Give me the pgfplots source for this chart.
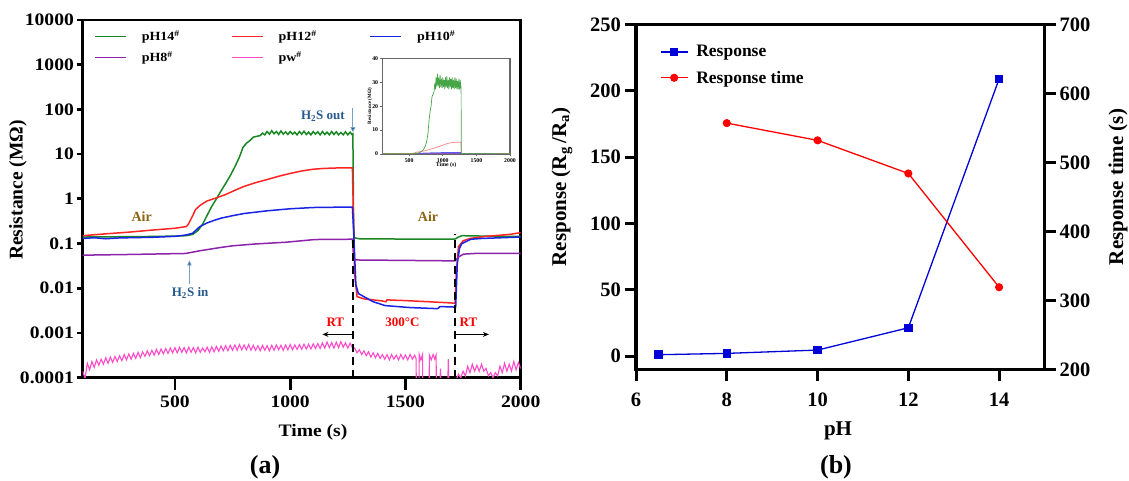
\documentclass[border=0pt]{standalone}
\usepackage{pgfplots}
\pgfplotsset{compat=1.18}
\usepackage{pgfplotstable}
\usepackage{fontspec}
\setmainfont{Liberation Serif}
\newfontfamily\fa{Liberation Serif}[FakeStretch=1.12]
\usetikzlibrary{arrows.meta}

\definecolor{cgreen}{RGB}{25,135,35}
\definecolor{cred}{RGB}{255,35,35}
\definecolor{cblue}{RGB}{25,35,230}
\definecolor{cpurple}{RGB}{140,35,170}
\definecolor{cpink}{RGB}{255,75,200}
\definecolor{cair}{RGB}{140,100,20}
\definecolor{ch2s}{RGB}{40,90,140}
\definecolor{ch2sl}{RGB}{120,160,200}
\definecolor{rblue}{RGB}{0,0,215}
\definecolor{rred}{RGB}{255,0,0}
\definecolor{igreen}{RGB}{70,165,70}
\definecolor{ired}{RGB}{255,130,130}
\definecolor{iblue}{RGB}{90,90,255}
\definecolor{ipurple}{RGB}{160,80,210}

\pgfplotstableread{
t v
100 0.140
200 0.141
300 0.143
400 0.144
500 0.147
550 0.150
577 0.160
600 0.195
620 0.270
640 0.430
660 0.680
680 1.00
700 1.50
720 2.20
740 3.30
760 5.20
780 8.60
795 14.0
810 17.5
825 20.0
840 24.0
855 25.0
870 26.0
880 29.5
890 27.0
900 32.0
910 28.0
920 33.5
930 28.5
940 32.0
950 27.5
960 33.0
970 28.0
980 31.5
990 27.5
1000 32.0
1010 28.0
1020 31.0
1030 27.0
1040 32.0
1050 28.0
1060 32.5
1070 27.5
1080 31.0
1090 27.0
1100 32.0
1110 28.0
1120 31.5
1130 27.0
1140 32.0
1150 27.5
1160 31.0
1170 27.0
1180 32.0
1190 27.5
1200 31.5
1210 27.0
1220 30.5
1230 27.0
1240 31.5
1250 27.0
1260 31.0
1268 27.5
1272 28.5
1275 0.300
1278 0.135
1300 0.128
1400 0.127
1500 0.126
1600 0.126
1712 0.126
1718 0.128
1730 0.140
1745 0.150
1800 0.148
1900 0.146
2000 0.145
}\tgreen

\pgfplotstableread{
t v
100 0.150
200 0.165
300 0.180
400 0.200
500 0.220
550 0.240
560 0.280
575 0.400
590 0.580
610 0.720
640 0.900
680 1.050
720 1.25
760 1.55
800 1.90
850 2.30
900 2.70
950 3.20
1000 3.70
1050 4.20
1100 4.60
1150 4.80
1200 4.90
1270 4.90
1275 0.300
1280 0.020
1290 0.0065
1320 0.0058
1400 0.0052
1415 0.0050
1420 0.0055
1500 0.0053
1600 0.0050
1700 0.0047
1715 0.0046
1720 0.020
1730 0.085
1750 0.115
1780 0.130
1850 0.145
1950 0.160
2000 0.175
}\tred

\pgfplotstableread{
t v
100 0.130
150 0.135
200 0.128
250 0.133
300 0.135
400 0.138
500 0.145
546 0.155
577 0.170
608 0.240
640 0.290
670 0.330
700 0.370
750 0.420
800 0.470
900 0.540
1000 0.600
1100 0.640
1200 0.650
1270 0.650
1275 0.200
1285 0.012
1296 0.0076
1320 0.0065
1360 0.0050
1412 0.0041
1520 0.0037
1640 0.0035
1650 0.0039
1714 0.0038
1718 0.0038
1725 0.036
1735 0.080
1745 0.100
1784 0.125
1830 0.130
2000 0.140
}\tblue

\pgfplotstableread{
t v
100 0.055
300 0.057
546 0.060
608 0.069
700 0.082
750 0.089
850 0.098
980 0.107
1100 0.122
1134 0.124
1270 0.125
1276 0.043
1500 0.042
1715 0.041
1730 0.050
1752 0.058
1800 0.060
2000 0.060
}\tpurple

\pgfplotstableread{
t v
100 1.4e-4
110 0.95e-4
120 2.1e-4
130 1.5e-4
140 2.3e-4
150 1.7e-4
160 2.5e-4
170 1.9e-4
180 2.6e-4
190 2.0e-4
200 2.8e-4
210 2.1e-4
220 2.9e-4
230 2.2e-4
240 3.0e-4
250 2.3e-4
260 3.1e-4
270 2.4e-4
280 3.3e-4
290 2.5e-4
300 3.4e-4
310 2.6e-4
320 3.5e-4
330 2.7e-4
340 3.7e-4
350 2.8e-4
360 3.8e-4
370 3.0e-4
380 4.0e-4
390 3.1e-4
400 4.1e-4
410 3.2e-4
420 4.3e-4
430 3.3e-4
440 4.4e-4
450 3.4e-4
460 4.5e-4
470 3.5e-4
480 4.6e-4
490 3.6e-4
500 4.7e-4
510 3.6e-4
520 4.8e-4
530 3.7e-4
540 4.7e-4
550 3.6e-4
560 4.8e-4
570 3.7e-4
580 4.7e-4
590 3.6e-4
600 4.8e-4
610 3.7e-4
620 4.6e-4
630 3.8e-4
640 4.8e-4
650 3.7e-4
660 4.9e-4
670 3.8e-4
680 5.0e-4
690 3.9e-4
700 5.1e-4
710 4.0e-4
720 5.2e-4
730 4.0e-4
740 5.3e-4
750 4.1e-4
760 5.4e-4
770 4.1e-4
780 5.5e-4
790 4.2e-4
800 5.4e-4
810 4.2e-4
820 5.5e-4
830 4.1e-4
840 5.3e-4
850 4.1e-4
860 5.2e-4
870 4.0e-4
880 5.3e-4
890 4.1e-4
900 5.2e-4
910 4.0e-4
920 5.3e-4
930 4.1e-4
940 5.4e-4
950 4.2e-4
960 5.3e-4
970 4.1e-4
980 5.4e-4
990 4.2e-4
1000 5.5e-4
1010 4.2e-4
1020 5.4e-4
1030 4.3e-4
1040 5.5e-4
1050 4.3e-4
1060 5.6e-4
1070 4.4e-4
1080 5.6e-4
1090 4.4e-4
1100 5.7e-4
1110 4.5e-4
1120 5.8e-4
1130 4.5e-4
1140 6.0e-4
1150 4.6e-4
1160 6.3e-4
1170 4.7e-4
1180 6.1e-4
1190 4.6e-4
1200 6.2e-4
1210 4.7e-4
1220 6.4e-4
1230 4.8e-4
1240 6.0e-4
1250 4.6e-4
1260 5.9e-4
1270 4.7e-4
1280 4.6e-4
1290 3.6e-4
1300 4.2e-4
1310 3.3e-4
1320 4.0e-4
1330 3.1e-4
1340 3.8e-4
1350 2.9e-4
1360 3.6e-4
1370 2.8e-4
1380 3.5e-4
1390 2.7e-4
1400 3.3e-4
1410 2.6e-4
1420 3.3e-4
1430 2.5e-4
1440 3.3e-4
1450 2.6e-4
1460 3.2e-4
1470 2.5e-4
1480 3.3e-4
1490 2.6e-4
1500 3.2e-4
1510 2.5e-4
1520 3.3e-4
1530 2.6e-4
1540 3.2e-4
1546 2.7e-4
1547 0.9e-4
1559 0.9e-4
1560 3.3e-4
1567 2.5e-4
1574 3.3e-4
1575 0.9e-4
1603 0.9e-4
1604 3.2e-4
1612 2.5e-4
1620 3.3e-4
1627 2.6e-4
1633 3.2e-4
1634 0.9e-4
1650 0.9e-4
1652 1.6e-4
1654 0.9e-4
1684 0.9e-4
1686 2.6e-4
1688 0.9e-4
1720 0.9e-4
1730 1.2e-4
1740 1.0e-4
1750 1.4e-4
1760 1.1e-4
1770 1.8e-4
1780 1.3e-4
1790 2.0e-4
1800 1.4e-4
1810 1.9e-4
1820 1.4e-4
1830 2.0e-4
1840 1.4e-4
1850 1.6e-4
1860 1.1e-4
1870 1.3e-4
1880 1.0e-4
1890 1.3e-4
1900 1.1e-4
1910 1.8e-4
1920 1.3e-4
1930 2.1e-4
1940 1.4e-4
1950 2.0e-4
1960 1.4e-4
1970 2.3e-4
1980 1.5e-4
1990 2.2e-4
2000 1.6e-4
}\tpink

\pgfplotstableread{
ph r
6.5 1.0
8 2.0
10 4.5
12 21.3
14 209
}\tresp

\pgfplotstableread{
ph s
8 557
10 532
12 484
14 319
}\ttime

\begin{document}
\begin{tikzpicture}[x=1pt,y=1pt]
\path[use as bounding box] (0,0) rectangle (1129,481);

%%%%%%%%%%%%%%%% panel (a)
\begin{axis}[
  at={(82.7pt,103.3pt)}, anchor=south west,
  scale only axis, width=438pt, height=357.7pt,
  ymode=log, xmin=100, xmax=2000, ymin=1e-4, ymax=1e4,
  xtick={500,1000,1500,2000}, xticklabels={500,1000,1500,2000},
  ytick={1e-4,1e-3,1e-2,1e-1,1,10,100,1000,10000},
  yticklabels={0.0001,0.001,0.01,0.1,1,10,100,1000,10000},
  yminorticks=false, xminorticks=false,
  xtick pos=bottom, ytick pos=left,
  tick align=outside,
  xtick style={/pgfplots/major tick length=12pt, line width=2.7pt, black},
  ytick style={/pgfplots/major tick length=6pt, line width=2.7pt, black},
  axis line style={line width=2.7pt},
  /pgf/number format/assume math mode=true,
  ticklabel style={font=\fa\bfseries\fontsize{17.5}{17.5}\selectfont},
  xticklabel style={yshift=-10.5pt},
  yticklabel style={xshift=-1pt},
  legend columns=3,
  legend cell align=left,
  legend image code/.code={\draw[#1] (0pt,0pt) -- (31pt,0pt);},
  legend style={draw=none, fill=none, at={(rel axis cs:0,1)}, anchor=north west,
    xshift=11.6pt, yshift=-9.5pt, inner sep=0pt, outer sep=0pt,
    font=\fa\bfseries\fontsize{12.5}{12.5}\selectfont,
    nodes={inner sep=1pt}, row sep=7.5pt,
    /tikz/every odd column/.append style={column sep=14pt},
    /tikz/every even column/.append style={column sep=0pt}},
  clip=true,
]
\addplot[cgreen, line width=1.5pt] table[x=t,y=v] {\tgreen};
\addlegendentry{\makebox[88.3pt][l]{pH14\textsuperscript{\#}}}
\addplot[cred, line width=1.5pt] table[x=t,y=v] {\tred};
\addlegendentry{\makebox[90pt][l]{pH12\textsuperscript{\#}}}
\addplot[cblue, line width=1.5pt] table[x=t,y=v] {\tblue};
\addlegendentry{pH10\textsuperscript{\#}}
\addplot[cpurple, line width=1.5pt] table[x=t,y=v] {\tpurple};
\addlegendentry{\makebox[88.3pt][l]{pH8\textsuperscript{\#}}}
\addplot[cpink, line width=1.1pt] table[x=t,y=v] {\tpink};
\addlegendentry{\makebox[90pt][l]{pw\textsuperscript{\#}}}

% dashed marks
\draw[black, line width=2pt, dash pattern=on 8pt off 5pt] (axis cs:1273,1e-4) -- (axis cs:1273,0.15);
\draw[black, line width=2pt, dash pattern=on 8pt off 5pt] (axis cs:1715,1e-4) -- (axis cs:1715,0.16);
% annotations
\node[text=cair, font=\bfseries\fontsize{14}{14}\selectfont] at (axis cs:356,0.41) {Air};
\node[text=cair, font=\bfseries\fontsize{14}{14}\selectfont] at (axis cs:1598,0.41) {Air};
\node[text=ch2s, font=\bfseries\fontsize{13}{13}\selectfont] at (axis cs:566,0.0078) {H\textsubscript{2}S in};
\draw[ch2sl, line width=0.8pt, -{Triangle[length=5pt,width=4.5pt,fill=ch2s]}] (axis cs:563,0.0125) -- (axis cs:563,0.042);
\node[text=ch2s, font=\bfseries\fontsize{13}{13}\selectfont] at (axis cs:1142,70) {H\textsubscript{2}S out};
\draw[ch2sl, line width=0.8pt, -{Triangle[length=5pt,width=5pt,fill=ch2s]}] (axis cs:1272,110) -- (axis cs:1272,31);
\node[text=rred, font=\bfseries\fontsize{13}{13}\selectfont] at (axis cs:1196,0.00175) {RT};
\node[text=rred, font=\bfseries\fontsize{13}{13}\selectfont] at (axis cs:1487,0.00175) {300°C};
\node[text=rred, font=\bfseries\fontsize{13}{13}\selectfont] at (axis cs:1773,0.00175) {RT};
\draw[black, line width=1.3pt, -{Stealth[length=6pt,width=5pt]}] (axis cs:1273,0.00093) -- (axis cs:1140,0.00093);
\draw[black, line width=1.3pt, -{Stealth[length=6pt,width=5pt]}] (axis cs:1718,0.00093) -- (axis cs:1862,0.00093);
\end{axis}

%%%%%%%%%%%%%%%% inset
\begin{axis}[
  at={(382.3pt,327pt)}, anchor=south west,
  scale only axis, width=127.7pt, height=95.7pt,
  xmin=100, xmax=2000, ymin=0, ymax=40,
  xtick={500,1000,1500,2000}, ytick={0,10,20,30,40},
  xticklabels={500,1000,1500,2000}, yticklabels={0,10,20,30,40},
  xtick pos=bottom, ytick pos=left, tick align=outside,
  major tick length=2.5pt,
  tick style={line width=0.8pt, black!60},
  axis line style={line width=1.2pt, black!60},
  /pgf/number format/assume math mode=true,
  ticklabel style={font=\bfseries\fontsize{5.8}{6}\selectfont, inner sep=1.5pt},
  xlabel={Time (s)}, ylabel={Resistance (MΩ)},
  xlabel style={font=\bfseries\fontsize{5.8}{6}\selectfont, yshift=5pt},
  ylabel style={font=\bfseries\fontsize{5}{5}\selectfont, yshift=-5pt},
  clip=true,
]
\addplot[ipurple, line width=0.7pt] table[x=t,y=v] {\tpurple};
\addplot[iblue, line width=0.7pt] table[x=t,y=v] {\tblue};
\addplot[ired, line width=0.7pt] table[x=t,y=v] {\tred};
\addplot[igreen, line width=0.7pt] table[x=t,y=v] {\tgreen};
\end{axis}

\node[rotate=90, font=\bfseries\fontsize{19.5}{19.5}\selectfont] at (18,291) {Resistance (MΩ)};
\node[font=\fa\bfseries\fontsize{17.5}{17.5}\selectfont] at (313,49) {Time (s)};
\node[font=\bfseries\fontsize{26}{26}\selectfont] at (265,14) {(a)};

%%%%%%%%%%%%%%%% panel (b)
\begin{axis}[
  at={(636pt,111.7pt)}, anchor=south west,
  scale only axis, width=408.5pt, height=344.8pt,
  xmin=6, xmax=15, ymin=-10, ymax=250,
  xtick={6,8,10,12,14}, ytick={0,50,100,150,200,250},
  xticklabels={6,8,10,12,14}, yticklabels={0,50,100,150,200,250},
  xtick pos=bottom, ytick pos=left, tick align=outside,
  major tick length=11.5pt,
  tick style={line width=3pt, black},
  axis line style={line width=3.2pt},
  /pgf/number format/assume math mode=true,
  ticklabel style={font=\bfseries\fontsize{20.5}{20.5}\selectfont},
  xticklabel style={yshift=-9pt},
]
\addplot[rblue, line width=1.3pt, mark=square*, mark size=3.6pt, mark options={solid}] table[x=ph,y=r] {\tresp};
\end{axis}
\begin{axis}[
  at={(636pt,111.7pt)}, anchor=south west,
  scale only axis, width=408.5pt, height=344.8pt,
  xmin=6, xmax=15, ymin=200, ymax=700,
  axis x line=none, axis y line*=right,
  ytick={200,300,400,500,600,700}, yticklabels={200,300,400,500,600,700},
  tick align=outside,
  major tick length=11.5pt,
  tick style={line width=3pt, black},
  axis line style={line width=3.2pt},
  /pgf/number format/assume math mode=true,
  ticklabel style={font=\bfseries\fontsize{20.5}{20.5}\selectfont},
  legend cell align=left,
  legend image code/.code={\draw[#1, mark repeat=2, mark phase=2] plot coordinates {(0pt,0pt) (13.5pt,0pt) (27pt,0pt)};},
  legend style={draw=none, fill=none, at={(rel axis cs:0,1)}, anchor=north west,
    xshift=24pt, yshift=-20pt, inner sep=0pt, outer sep=0pt,
    font=\bfseries\fontsize{17.5}{17.5}\selectfont,
    nodes={inner sep=1pt}, row sep=10.5pt,
    /tikz/every odd column/.append style={column sep=7pt}},
]
\addlegendimage{rblue, line width=1.3pt, mark=square*, mark size=3.6pt}
\addlegendentry{Response}
\addplot[rred, line width=1.3pt, mark=*, mark size=3.4pt] table[x=ph,y=s] {\ttime};
\addlegendentry{Response time}
\end{axis}

\node[rotate=90, font=\bfseries\fontsize{21}{21}\selectfont] at (562,294) {Response (R\textsubscript{g}\,/R\textsubscript{a})};
\node[rotate=90, font=\bfseries\fontsize{21}{21}\selectfont] at (1118,294) {Response time (s)};
\node[font=\bfseries\fontsize{21}{21}\selectfont] at (838,50) {pH};
\node[font=\bfseries\fontsize{26}{26}\selectfont] at (836,14) {(b)};
\end{tikzpicture}
\end{document}
